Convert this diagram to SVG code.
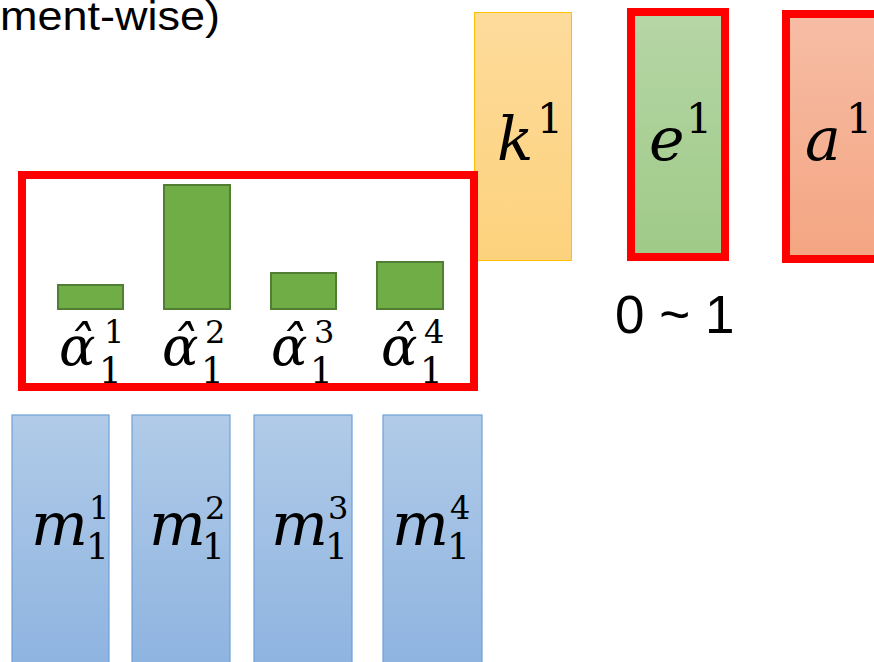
<svg xmlns="http://www.w3.org/2000/svg" width="874" height="662" viewBox="0 0 874 662">
<defs>
<linearGradient id="gOrange" x1="0" y1="0" x2="0" y2="1"><stop offset="0" stop-color="#FDDB9B"/><stop offset="1" stop-color="#FDD27D"/></linearGradient>
<linearGradient id="gGreen" x1="0" y1="0" x2="0" y2="1"><stop offset="0" stop-color="#B6D6A6"/><stop offset="1" stop-color="#9FCA87"/></linearGradient>
<linearGradient id="gSalmon" x1="0" y1="0" x2="0" y2="1"><stop offset="0" stop-color="#F6BDA5"/><stop offset="1" stop-color="#F4A582"/></linearGradient>
<linearGradient id="gBlue" x1="0" y1="0" x2="0" y2="1"><stop offset="0" stop-color="#B1CBE8"/><stop offset="1" stop-color="#8DB3E0"/></linearGradient>
</defs>
<style>
.sans{font-family:"Liberation Sans",Arial,sans-serif;fill:#000}
.mi{font-family:"DejaVu Serif",serif;font-style:italic;fill:#000}
.mn{font-family:"DejaVu Serif",serif;fill:#000}
.red{fill:none;stroke:#FF0000;stroke-width:8}
.bar{fill:#70AD47;stroke:#507E32;stroke-width:2}
.mbox{fill:url(#gBlue);stroke:#6FA0D8;stroke-width:1.2}
</style>
<rect width="874" height="662" fill="#FFFFFF"/>
<g id="title"><text class="sans" x="0" y="30" font-size="40" textLength="220" lengthAdjust="spacingAndGlyphs">ment-wise)</text></g>

<g id="node-k">
<rect x="474.5" y="12.5" width="97" height="248" fill="url(#gOrange)" stroke="#FFC000" stroke-width="1"/>
<text class="mi" x="497" y="160" font-size="60">k</text>
<text class="mn" x="537" y="133" font-size="41">1</text>
</g>

<g id="node-e">
<rect x="631" y="12" width="94" height="245" fill="url(#gGreen)"/>
<rect class="red" x="631" y="12" width="94" height="245"/>
<text class="mi" x="649" y="160" font-size="60">e</text>
<text class="mn" x="686" y="133" font-size="41">1</text>
</g>

<g id="node-a">
<rect x="786" y="14" width="100" height="245" fill="url(#gSalmon)"/>
<rect class="red" x="786" y="14" width="100" height="245"/>
<text class="mi" x="805" y="160" font-size="60">a</text>
<text class="mn" x="846" y="133" font-size="41">1</text>
</g>

<g id="range"><text class="sans" x="615" y="333" font-size="53">0 ~ 1</text></g>

<g id="node-alpha">
<rect class="red" x="22" y="175" width="452" height="212"/>
<rect class="bar" x="58" y="285" width="65" height="24"/>
<rect class="bar" x="164" y="185" width="66" height="124"/>
<rect class="bar" x="271" y="273" width="65" height="36"/>
<rect class="bar" x="377" y="262" width="66" height="47"/>
<text class="mi" x="59" y="365" font-size="54">α̂</text><text class="mn" x="104" y="343" font-size="32">1</text><text class="mn" x="99" y="383" font-size="36">1</text>
<text class="mi" x="162" y="365" font-size="54">α̂</text><text class="mn" x="205" y="343" font-size="32">2</text><text class="mn" x="201" y="383" font-size="36">1</text>
<text class="mi" x="271" y="365" font-size="54">α̂</text><text class="mn" x="314" y="343" font-size="32">3</text><text class="mn" x="310" y="383" font-size="36">1</text>
<text class="mi" x="381" y="365" font-size="54">α̂</text><text class="mn" x="424" y="343" font-size="32">4</text><text class="mn" x="420" y="383" font-size="36">1</text>
</g>

<g id="node-m1">
<rect class="mbox" x="12" y="415" width="97" height="260"/>
<text class="mi" x="31" y="545" font-size="60">m</text><text class="mn" x="89" y="519" font-size="32">1</text><text class="mn" x="86" y="559" font-size="36">1</text>
</g>
<g id="node-m2">
<rect class="mbox" x="132" y="415" width="98" height="260"/>
<text class="mi" x="149" y="545" font-size="60">m</text><text class="mn" x="205" y="519" font-size="32">2</text><text class="mn" x="202" y="559" font-size="36">1</text>
</g>
<g id="node-m3">
<rect class="mbox" x="254" y="415" width="98" height="260"/>
<text class="mi" x="271" y="545" font-size="60">m</text><text class="mn" x="328" y="519" font-size="32">3</text><text class="mn" x="325" y="559" font-size="36">1</text>
</g>
<g id="node-m4">
<rect class="mbox" x="383" y="415" width="99" height="260"/>
<text class="mi" x="392" y="545" font-size="60">m</text><text class="mn" x="450" y="519" font-size="32">4</text><text class="mn" x="447" y="559" font-size="36">1</text>
</g>
<g id="connectors"/>
</svg>
